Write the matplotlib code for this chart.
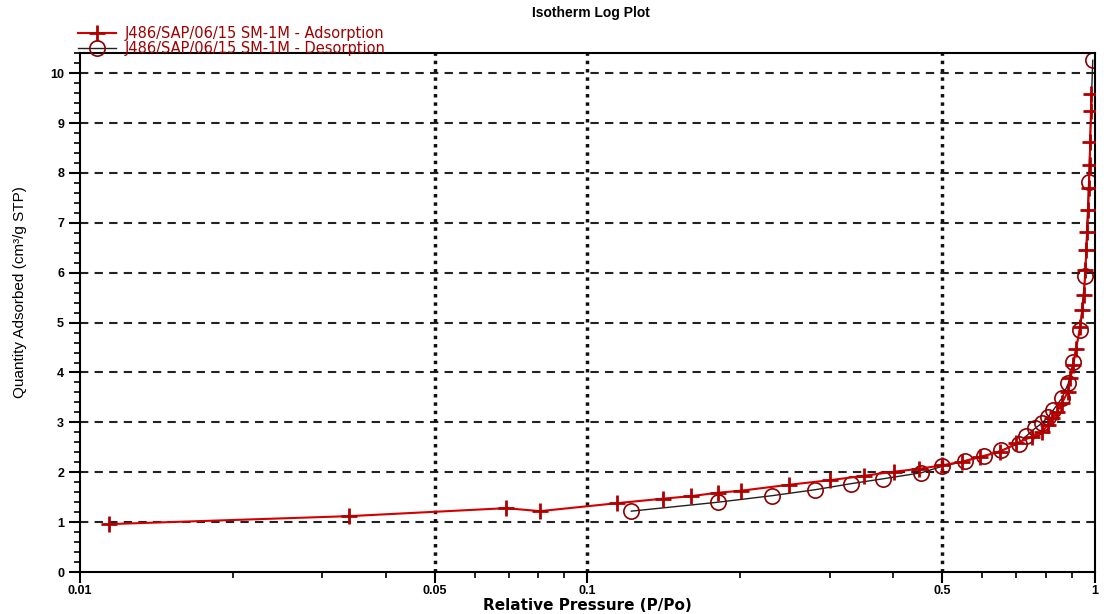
import matplotlib
matplotlib.use('Agg')
import matplotlib.pyplot as plt
from matplotlib.ticker import FixedLocator, NullFormatter, MultipleLocator

plt.rcParams['font.family'] = ['Liberation Sans', 'DejaVu Sans']

# adsorption branch (P/Po, cm3/g STP)
p_ads = [0.0114, 0.0339, 0.0691, 0.0806, 0.1143, 0.1407, 0.1596, 0.181, 0.2006, 0.250,
         0.300, 0.351, 0.401, 0.451, 0.50, 0.546, 0.594, 0.65, 0.70, 0.75,
         0.787, 0.807, 0.8245, 0.8425, 0.860, 0.884, 0.895, 0.906, 0.918, 0.935,
         0.945, 0.952, 0.957, 0.962, 0.966, 0.970, 0.973, 0.976, 0.979, 0.982, 0.984]
q_ads = [0.96, 1.12, 1.28, 1.22, 1.38, 1.47, 1.52, 1.59, 1.63, 1.75,
         1.84, 1.93, 2.01, 2.07, 2.14, 2.21, 2.31, 2.41, 2.58, 2.71,
         2.81, 2.95, 3.08, 3.21, 3.38, 3.61, 3.88, 4.15, 4.48, 4.92,
         5.25, 5.55, 6.05, 6.45, 6.82, 7.25, 7.69, 8.16, 8.62, 9.24, 9.59]

# desorption branch
p_des = [0.122, 0.181, 0.231, 0.281, 0.33, 0.383, 0.455, 0.50, 0.554, 0.604,
         0.654, 0.707, 0.733, 0.762, 0.785, 0.809, 0.828, 0.86, 0.886, 0.906,
         0.934, 0.956, 0.972, 0.99]
q_des = [1.22, 1.40, 1.53, 1.65, 1.77, 1.87, 1.99, 2.12, 2.22, 2.32,
         2.44, 2.57, 2.73, 2.88, 2.98, 3.11, 3.25, 3.48, 3.78, 4.21,
         4.85, 5.93, 7.82, 10.26]

x_major = [0.01, 0.05, 0.1, 0.5, 1]
x_labels = ['0.01', '0.05', '0.1', '0.5', '1']
x_minor = [0.02, 0.03, 0.04, 0.06, 0.07, 0.08, 0.09, 0.2, 0.3, 0.4, 0.6, 0.7, 0.8, 0.9]

fig = plt.figure(figsize=(11.04, 6.14), dpi=100)
ax = fig.add_axes([0.0725, 0.0684, 0.9193, 0.8448])

ax.plot(p_ads, q_ads, color='#d40000', lw=1.5, marker='+', ms=11, mew=2,
        mec='#b00000', label='J486/SAP/06/15 SM-1M - Adsorption', zorder=3)
ax.plot(p_des, q_des, color='#202020', lw=1.0, marker='o', ms=11, mew=1.2,
        mfc='none', mec='#8b0000', label='J486/SAP/06/15 SM-1M - Desorption', zorder=2)

ax.set_xscale('log')
ax.set_xlim(0.01, 1.0)
ax.set_ylim(0, 10.4)

ax.xaxis.set_major_locator(FixedLocator(x_major))
ax.set_xticklabels(x_labels)
ax.xaxis.set_minor_locator(FixedLocator(x_minor))
ax.xaxis.set_minor_formatter(NullFormatter())
ax.yaxis.set_major_locator(MultipleLocator(1))
ax.yaxis.set_minor_locator(MultipleLocator(0.2))

ax.tick_params(which='major', direction='out', length=8, width=1.5, labelsize=9)
ax.tick_params(axis='x', which='major', pad=1.5)
ax.tick_params(which='minor', direction='out', length=4, width=1.2)
for lab in ax.get_xticklabels() + ax.get_yticklabels():
    lab.set_fontweight('bold')

for s in ax.spines.values():
    s.set_linewidth(1.5)

# grid: dashed rows, dotted columns
for v in range(1, 11):
    ax.axhline(v, color='#222222', lw=1.5, ls=(0, (4, 3)), zorder=1)
for v in [0.05, 0.1, 0.5]:
    ax.axvline(v, color='#111111', lw=2.5, ls=(0, (1, 1.4)), zorder=1)

ax.set_xlabel('Relative Pressure (P/Po)', fontsize=11, fontweight='bold',
              family='DejaVu Sans', labelpad=0.5)
ax.set_ylabel('Quantity Adsorbed (cm³/g STP)', fontsize=11)
ax.yaxis.set_label_coords(-0.052, 0.54)
fig.text(0.535, 0.979, 'Isotherm Log Plot', ha='center', va='center',
         fontsize=10, fontweight='bold')

leg = ax.legend(loc='lower left', bbox_to_anchor=(-0.002, 0.995), frameon=False,
                prop={'family': 'DejaVu Sans', 'size': 10.5}, handlelength=2.6,
                handletextpad=0.6, labelspacing=0, borderpad=0, borderaxespad=0)
for t in leg.get_texts():
    t.set_color('#a00000')

fig.savefig('out.png', dpi=100)
